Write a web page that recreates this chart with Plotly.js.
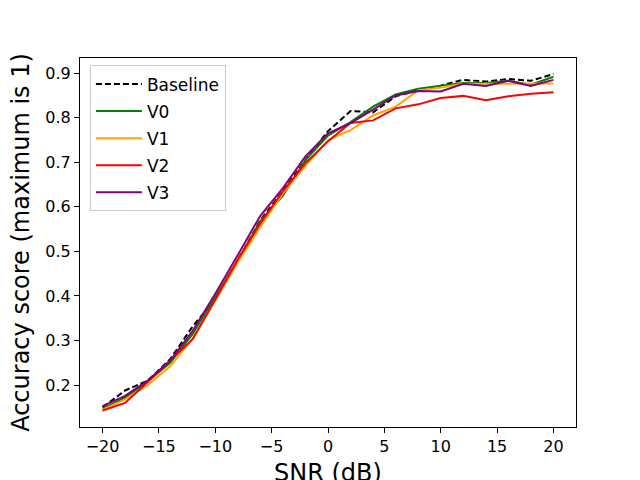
<!DOCTYPE html>
<html>
<head>
<meta charset="utf-8">
<script src="https://cdn.plot.ly/plotly-3.0.1.min.js"></script>
<style>body{margin:0;padding:0;background:#fff}</style>
</head>
<body>
<div id="grapharea" style="width:640px;height:480px"></div>
<script>
// SNR steps and accuracy per model
var snr = [-20,-18,-16,-14,-12,-10,-8,-6,-4,-2,0,2,4,6,8,10,12,14,16,18,20];
var baseline = [0.150,0.188,0.210,0.258,0.332,0.392,0.480,0.570,0.635,0.705,0.770,0.815,0.812,0.848,0.862,0.872,0.885,0.881,0.887,0.883,0.898];
var v0 = [0.147,0.172,0.208,0.250,0.315,0.397,0.480,0.568,0.625,0.705,0.760,0.790,0.825,0.852,0.865,0.872,0.878,0.878,0.883,0.874,0.892];
var v1 = [0.145,0.168,0.200,0.242,0.305,0.390,0.475,0.555,0.630,0.692,0.750,0.772,0.805,0.825,0.861,0.868,0.876,0.876,0.876,0.876,0.877];
var v2 = [0.143,0.160,0.207,0.255,0.303,0.392,0.482,0.563,0.635,0.698,0.747,0.788,0.794,0.821,0.830,0.844,0.849,0.839,0.848,0.854,0.857];
var v3 = [0.153,0.176,0.210,0.255,0.322,0.405,0.492,0.580,0.642,0.713,0.765,0.788,0.818,0.850,0.860,0.859,0.876,0.871,0.883,0.871,0.885];

var names = ['Baseline','V0','V1','V2','V3'];
var series = [baseline, v0, v1, v2, v3];
var colours = ['black','green','orange','red','purple'];

var data = [];
for (var i = 0; i < series.length; i++) {
  data.push({
    x: snr,
    y: series[i],
    name: names[i],
    legendgroup: names[i],
    mode: 'lines',
    type: 'scatter',
    line: {color: colours[i], width: 2, dash: i == 0 ? '6px,3px' : 'solid'}
  });
}

var font = {family: 'DejaVu Sans, sans-serif', color: 'black', size: 16};

var layout = {
  width: 640, height: 480,
  margin: {l: 80, r: 64, t: 58, b: 53},
  paper_bgcolor: 'white', plot_bgcolor: 'white',
  font: font,
  showlegend: true,
  legend: {
    x: 0.02, y: 0.98, xanchor: 'left', yanchor: 'top',
    bgcolor: 'rgba(255,255,255,0.8)', bordercolor: '#cccccc', borderwidth: 1,
    font: {family: 'DejaVu Sans, sans-serif', size: 17, color: 'black'},
    itemwidth: 46, tracegroupgap: 2
  },
  xaxis: {
    range: [-22, 22], tick0: 0, dtick: 5,
    showgrid: false, zeroline: false,
    showline: true, mirror: true, linecolor: 'black', linewidth: 1,
    ticks: 'outside', ticklen: 5, tickwidth: 1, tickcolor: 'black',
    tickfont: {size: 16},
    automargin: false
  },
  yaxis: {
    range: [0.106, 0.934], tick0: 0, dtick: 0.1, tickformat: '.1f',
    showgrid: false, zeroline: false,
    showline: true, mirror: true, linecolor: 'black', linewidth: 1,
    ticks: 'outside', ticklen: 5, tickwidth: 1, tickcolor: 'black',
    tickfont: {size: 16},
    title: {text: 'Accuracy score (maximum is 1)', font: {size: 24}, standoff: 8},
    automargin: false
  },
  // x title sits lower than plotly allows inside the margin, so it is an annotation
  annotations: [{
    text: 'SNR (dB)', xref: 'paper', yref: 'paper', x: 0.5, y: 0,
    xanchor: 'center', yanchor: 'top', yshift: -30, showarrow: false,
    font: {family: 'DejaVu Sans, sans-serif', size: 24, color: 'black'}
  }]
};

try { Plotly.newPlot('grapharea', data, layout, {staticPlot: true}); }
catch (err) { document.body.innerHTML = err; }
</script>
</body>
</html>
